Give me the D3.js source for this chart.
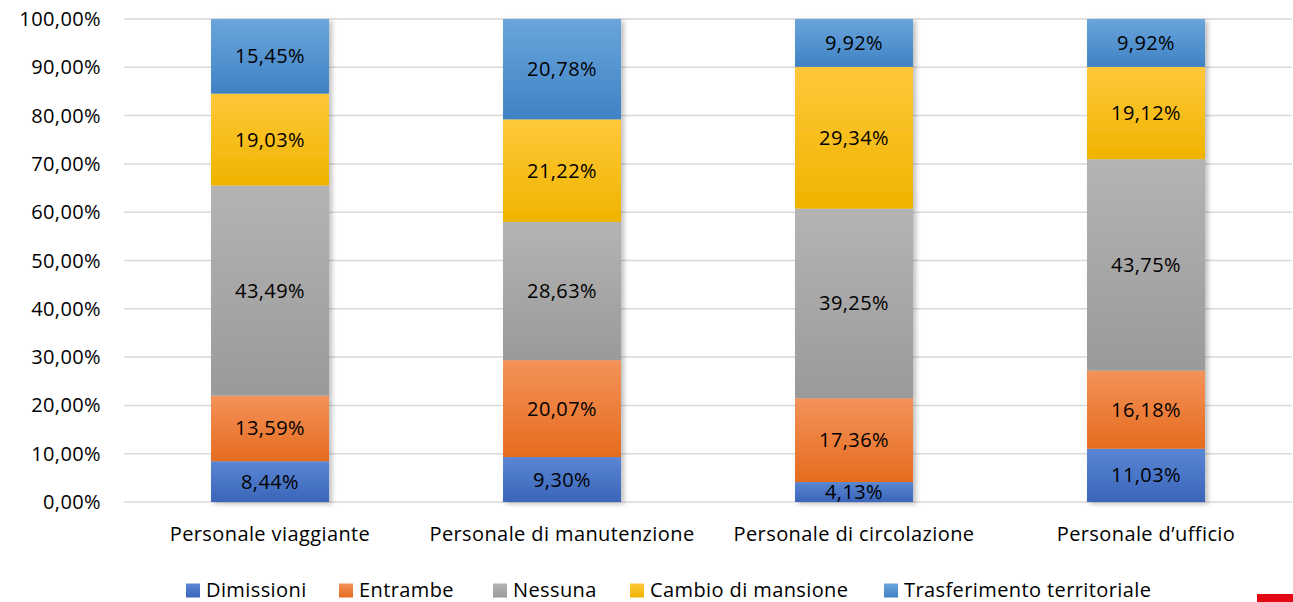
<!DOCTYPE html>
<html>
<head>
<meta charset="utf-8">
<script src="https://cdn.jsdelivr.net/npm/d3@7"></script>
<style>
  body { margin: 0; background: #fff; }
  svg text { font-family: "Open Sans", "Noto Sans", sans-serif; fill: #000; letter-spacing: 0.4px; }
</style>
</head>
<body>
<svg id="chart" width="1293" height="602"></svg>
<script>
// --- DATA ---
const categories = ["Personale viaggiante", "Personale di manutenzione", "Personale di circolazione", "Personale d\u2019ufficio"];
const seriesNames = ["Dimissioni", "Entrambe", "Nessuna", "Cambio di mansione", "Trasferimento territoriale"];
const dimissioni = [8.44, 9.30, 4.13, 11.03];
const entrambe = [13.59, 20.07, 17.36, 16.18];
const nessuna = [43.49, 28.63, 39.25, 43.75];
const cambio = [19.03, 21.22, 29.34, 19.12];
const trasferimento = [15.45, 20.78, 9.92, 9.92];
const yTicks = [0, 10, 20, 30, 40, 50, 60, 70, 80, 90, 100];

// colours: [top of gradient, bottom of gradient]
const seriesColors = [
    ["#5a86d2", "#3a65ba"],
    ["#f4925a", "#e56c1e"],
    ["#b4b4b4", "#9a9a9a"],
    ["#ffc83a", "#f0b400"],
    ["#6aa5dc", "#3f82c4"]
];

// --- LAYOUT ---
const svg = d3.select("#chart");
const margin = { left: 124, right: 1, top: 19 };
const width = 1293;
const plotBottom = 502;

const x = d3.scaleBand().domain(categories).range([margin.left, width - margin.right]).paddingInner(0.596).paddingOuter(0.298);
const y = d3.scaleLinear().domain([0, 100]).range([plotBottom, margin.top]);

const fmt = v => v.toFixed(2).replace(".", ",");

// --- DEFS: gradients + shadow ---
const defs = svg.append("defs");
seriesColors.forEach((c, i) => {
    const g = defs.append("linearGradient").attr("id", "grad" + i)
        .attr("x1", 0).attr("y1", 0).attr("x2", 0).attr("y2", 1);
    g.append("stop").attr("offset", "0%").attr("stop-color", c[0]);
    g.append("stop").attr("offset", "100%").attr("stop-color", c[1]);
});
const shadow = defs.append("filter").attr("id", "shadow")
    .attr("x", "-10%").attr("y", "-5%").attr("width", "130%").attr("height", "115%");
shadow.append("feDropShadow").attr("dx", 3).attr("dy", 2).attr("stdDeviation", 2.5)
    .attr("flood-color", "#000").attr("flood-opacity", 0.25);

// --- GRIDLINES + Y AXIS ---
svg.append("g").selectAll("line").data(yTicks).join("line")
    .attr("x1", margin.left).attr("x2", width - margin.right)
    .attr("y1", d => y(d)).attr("y2", d => y(d))
    .attr("stroke", "#d9d9d9").attr("stroke-width", 1.5);

svg.append("g").selectAll("text").data(yTicks).join("text")
    .attr("x", 101).attr("y", d => y(d)).attr("dy", "0.35em")
    .attr("text-anchor", "end").style("font-size", "20px")
    .text(d => fmt(d) + "%");

// --- STACKED BARS ---
const table = categories.map((c, i) => ({
    category: c,
    "Dimissioni": dimissioni[i],
    "Entrambe": entrambe[i],
    "Nessuna": nessuna[i],
    "Cambio di mansione": cambio[i],
    "Trasferimento territoriale": trasferimento[i]
}));
const stacked = d3.stack().keys(seriesNames)(table);

const barGroup = svg.append("g");
categories.forEach((c, ci) => {
    const col = barGroup.append("g").attr("filter", "url(#shadow)");
    stacked.forEach((layer, si) => {
        const d = layer[ci];
        col.append("rect")
            .attr("x", x(c)).attr("width", x.bandwidth())
            .attr("y", y(d[1])).attr("height", y(d[0]) - y(d[1]))
            .attr("fill", `url(#grad${si})`);
    });
});

const labelGroup = svg.append("g");
stacked.forEach(layer => {
    layer.forEach((d, ci) => {
        labelGroup.append("text")
            .attr("x", x(categories[ci]) + x.bandwidth() / 2)
            .attr("y", (y(d[0]) + y(d[1])) / 2).attr("dy", "0.35em")
            .attr("text-anchor", "middle").style("font-size", "20px")
            .text(fmt(d[1] - d[0]) + "%");
    });
});

// --- X LABELS ---
svg.append("g").selectAll("text").data(categories).join("text")
    .attr("x", d => x(d) + x.bandwidth() / 2).attr("y", 534)
    .attr("dy", "0.35em").attr("text-anchor", "middle").style("font-size", "20px")
    .text(d => d);

// --- LEGEND ---
const legendX = [186, 339, 493, 630, 884];
const legend = svg.append("g").selectAll("g").data(seriesNames).join("g")
    .attr("transform", (d, i) => `translate(${legendX[i]},589.5)`);
legend.append("rect").attr("x", 0).attr("y", -6).attr("width", 14).attr("height", 14)
    .attr("fill", (d, i) => `url(#grad${i})`);
legend.append("text").attr("x", 20).attr("dy", "0.35em").style("font-size", "20px").text(d => d);

// red corner mark
svg.append("rect").attr("x", 1257).attr("y", 594).attr("width", 36).attr("height", 8).attr("fill", "#e30613");
</script>
</body>
</html>
